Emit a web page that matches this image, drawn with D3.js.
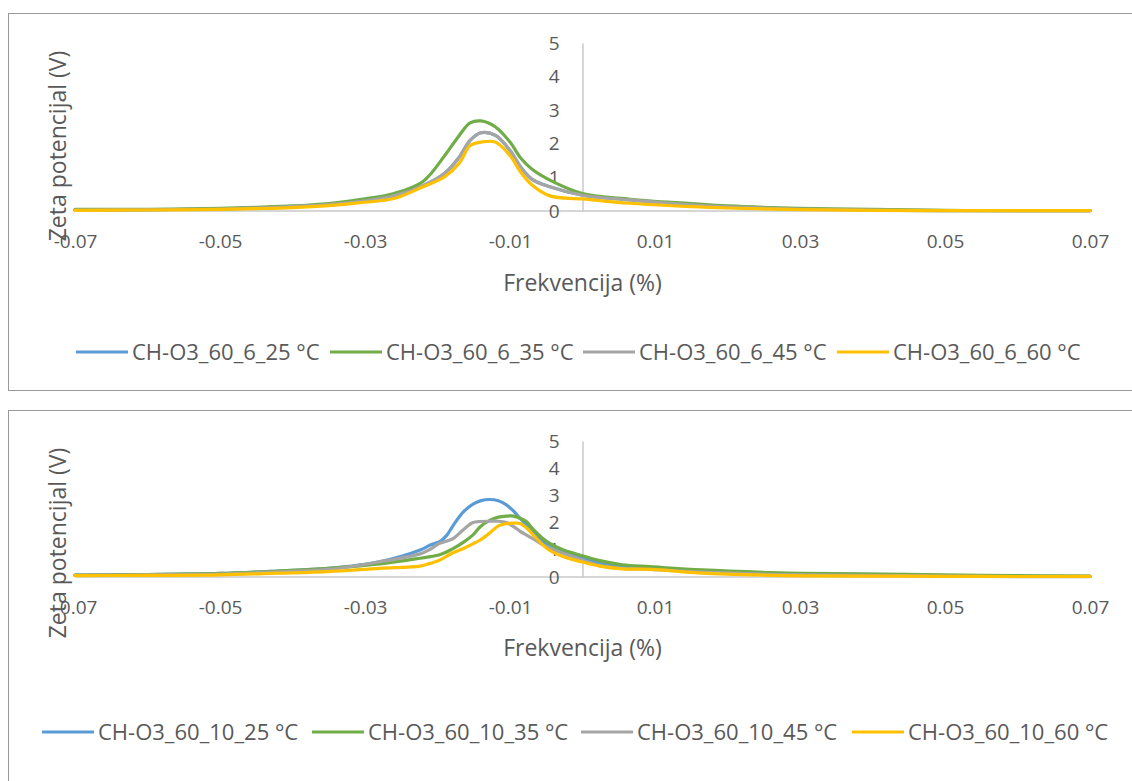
<!DOCTYPE html>
<html>
<head>
<meta charset="utf-8">
<script src="https://cdn.jsdelivr.net/npm/d3@7"></script>
<style>
  html, body { margin: 0; padding: 0; background: #ffffff; }
  svg { display: block; }
  text { font-family: "Open Sans", "Liberation Sans", sans-serif; fill: #595959; }
</style>
</head>
<body>
<svg id="chart" width="1132" height="781"></svg>
<script>
// ---------- DATA ----------
const xTickValues = [-0.07, -0.05, -0.03, -0.01, 0.01, 0.03, 0.05, 0.07];
const xTickLabels = ["-0.07", "-0.05", "-0.03", "-0.01", "0.01", "0.03", "0.05", "0.07"];
const yTickValues = [0, 1, 2, 3, 4, 5];
const yTickLabels = ["0", "1", "2", "3", "4", "5"];
const xTitle = "Frekvencija (%)";
const yTitle = "Zeta potencijal (V)";
const seriesColors = ["#5B9BD5", "#70AD47", "#A5A5A5", "#FFC000"];

// Chart 1 (CH-O3_60_6)
const names1 = ["CH-O3_60_6_25 °C", "CH-O3_60_6_35 °C", "CH-O3_60_6_45 °C", "CH-O3_60_6_60 °C"];
const x1 = [-0.07, -0.06, -0.05, -0.045, -0.04, -0.035, -0.03, -0.026, -0.022, -0.019, -0.017, -0.0155, -0.014, -0.012, -0.01, -0.0085, -0.007, -0.0045, 0, 0.0065, 0.015, 0.02, 0.03, 0.04, 0.05, 0.06, 0.07];
const blue1   = [0.03, 0.04, 0.06, 0.09, 0.13, 0.19, 0.30, 0.45, 0.75, 1.12, 1.60, 2.10, 2.33, 2.25, 1.80, 1.30, 0.95, 0.72, 0.47, 0.33, 0.18, 0.12, 0.06, 0.03, 0.01, 0.01, 0.01];
const green1  = [0.05, 0.05, 0.08, 0.11, 0.15, 0.22, 0.36, 0.52, 0.88, 1.65, 2.25, 2.62, 2.68, 2.50, 2.05, 1.57, 1.25, 0.92, 0.52, 0.35, 0.22, 0.15, 0.08, 0.05, 0.02, 0.01, 0.01];
const gray1   = [0.03, 0.04, 0.06, 0.09, 0.13, 0.19, 0.30, 0.45, 0.75, 1.12, 1.60, 2.10, 2.33, 2.25, 1.80, 1.30, 0.95, 0.72, 0.47, 0.33, 0.18, 0.12, 0.06, 0.03, 0.01, 0.01, 0.01];
const yellow1 = [0.02, 0.03, 0.05, 0.07, 0.10, 0.16, 0.26, 0.37, 0.72, 1.02, 1.42, 1.95, 2.05, 2.05, 1.65, 1.15, 0.78, 0.45, 0.36, 0.23, 0.13, 0.09, 0.04, 0.02, 0.01, 0.01, 0.01];

// Chart 2 (CH-O3_60_10)
const names2 = ["CH-O3_60_10_25 °C", "CH-O3_60_10_35 °C", "CH-O3_60_10_45 °C", "CH-O3_60_10_60 °C"];
const x2 = [-0.07, -0.06, -0.05, -0.042, -0.035, -0.028, -0.0224, -0.021, -0.0197, -0.0187, -0.0178, -0.0164, -0.0151, -0.0141, -0.0128, -0.0116, -0.0105, -0.0095, -0.0086, -0.0077, -0.0068, -0.0049, -0.0027, 0, 0.0024, 0.0055, 0.0094, 0.0165, 0.026, 0.0305, 0.0445, 0.055, 0.07];
const blue2   = [0.07, 0.09, 0.13, 0.22, 0.32, 0.56, 0.99, 1.18, 1.30, 1.54, 1.91, 2.40, 2.68, 2.80, 2.85, 2.80, 2.65, 2.42, 2.15, 1.90, 1.62, 1.20, 0.93, 0.70, 0.50, 0.40, 0.34, 0.22, 0.13, 0.11, 0.07, 0.04, 0.02];
const green2  = [0.07, 0.09, 0.13, 0.22, 0.32, 0.48, 0.69, 0.75, 0.82, 0.93, 1.05, 1.28, 1.55, 1.85, 2.08, 2.20, 2.24, 2.24, 2.16, 2.03, 1.75, 1.30, 1.00, 0.78, 0.60, 0.45, 0.38, 0.26, 0.16, 0.13, 0.10, 0.06, 0.03];
const gray2   = [0.06, 0.08, 0.11, 0.19, 0.28, 0.56, 0.85, 1.02, 1.24, 1.32, 1.42, 1.75, 2.00, 2.04, 2.05, 2.05, 2.00, 1.85, 1.68, 1.54, 1.40, 1.11, 0.87, 0.62, 0.42, 0.32, 0.28, 0.18, 0.10, 0.08, 0.05, 0.02, 0.01];
const yellow2 = [0.05, 0.06, 0.08, 0.14, 0.20, 0.32, 0.40, 0.50, 0.62, 0.77, 0.90, 1.05, 1.22, 1.36, 1.62, 1.88, 1.96, 1.98, 1.97, 1.80, 1.55, 1.05, 0.75, 0.55, 0.40, 0.30, 0.28, 0.14, 0.06, 0.04, 0.03, 0.02, 0.02];

// ---------- DRAW ----------
const svg = d3.select("#chart");

const charts = [
  { top: 13.5, frameH: 377, xs: x1, series: [blue1, green1, gray1, yellow1], names: names1,
    y0: 211, y5: 43, xLabelY: 241, xTitleY: 283, legendY: 352, yTitleY: 146,
    legendLine: [76, 330, 583, 837] },
  { top: 410.5, frameH: 400, xs: x2, series: [blue2, green2, gray2, yellow2], names: names2,
    y0: 577, y5: 441, xLabelY: 607, xTitleY: 648, legendY: 732, yTitleY: 543,
    legendLine: [42, 312, 581, 852] }
];

const x = d3.scaleLinear().domain([-0.07, 0.07]).range([75, 1090]);

charts.forEach(c => {
  const g = svg.append("g");
  // frame
  g.append("rect")
    .attr("x", 8.5).attr("y", c.top)
    .attr("width", 1140).attr("height", c.frameH)
    .attr("fill", "#ffffff").attr("stroke", "#9a9a9a").attr("stroke-width", 1);

  const y = d3.scaleLinear().domain([0, 5]).range([c.y0, c.y5]);

  // x axis line (at y = 0)
  g.append("line")
    .attr("x1", x(-0.07)).attr("x2", x(0.07))
    .attr("y1", y(0)).attr("y2", y(0))
    .attr("stroke", "#c9c9c9").attr("stroke-width", 1.5);

  // y axis (crosses at x = 0)
  const yAxis = d3.axisLeft(y).tickValues(yTickValues)
    .tickFormat((d, i) => yTickLabels[i]).tickSize(0).tickPadding(23);
  const ya = g.append("g").attr("transform", `translate(${x(0)},0)`).call(yAxis);
  ya.select(".domain").attr("stroke", "#c9c9c9").attr("stroke-width", 1.5);
  ya.selectAll("text").style("font-size", "19px").attr("fill", "#595959")
    .style("font-family", '"Open Sans", sans-serif');

  // x tick labels
  const xAxis = d3.axisBottom(x).tickValues(xTickValues)
    .tickFormat((d, i) => xTickLabels[i]).tickSize(0).tickPadding(0);
  const xa = g.append("g").attr("transform", `translate(0,${c.xLabelY})`).call(xAxis);
  xa.select(".domain").remove();
  xa.selectAll("text").attr("y", 0).attr("dy", "0.35em")
    .style("font-size", "19px").attr("fill", "#595959")
    .style("font-family", '"Open Sans", sans-serif');

  // series lines
  const line = d3.line()
    .x((d, i) => x(c.xs[i]))
    .y(d => y(d))
    .curve(d3.curveCatmullRom.alpha(0.5));
  c.series.forEach((vals, si) => {
    g.append("path")
      .datum(vals)
      .attr("d", line)
      .attr("fill", "none")
      .attr("stroke", seriesColors[si])
      .attr("stroke-width", 3.2)
      .attr("stroke-linejoin", "round")
      .attr("stroke-linecap", "round");
  });

  // axis titles
  g.append("text")
    .attr("x", x(0)).attr("y", c.xTitleY).attr("dy", "0.35em")
    .attr("text-anchor", "middle").style("font-size", "23px")
    .text(xTitle);
  g.append("text")
    .attr("transform", `translate(58,${c.yTitleY}) rotate(-90)`)
    .attr("dy", "0.35em")
    .attr("text-anchor", "middle").style("font-size", "23px")
    .text(yTitle);

  // legend
  c.names.forEach((nm, i) => {
    const lx = c.legendLine[i];
    g.append("line")
      .attr("x1", lx).attr("x2", lx + 52)
      .attr("y1", c.legendY).attr("y2", c.legendY)
      .attr("stroke", seriesColors[i]).attr("stroke-width", 3.2);
    g.append("text")
      .attr("x", lx + 56).attr("y", c.legendY).attr("dy", "0.35em")
      .style("font-size", "22px")
      .text(nm);
  });
});
</script>
</body>
</html>
